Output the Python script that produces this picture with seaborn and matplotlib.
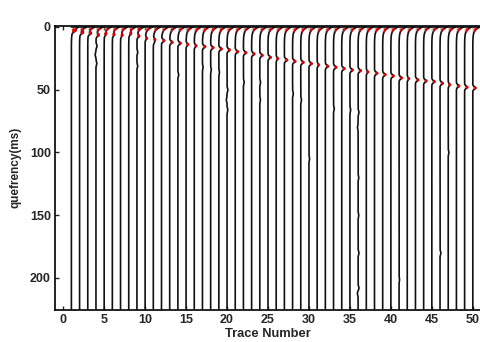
import numpy as np
import pandas as pd
import matplotlib
matplotlib.use("Agg")
import matplotlib.pyplot as plt
import seaborn as sns

# ---- data ----
trace_numbers = list(range(1, 51))
peak_quefrency = [2.9, 4.3, 5.0, 6.4, 5.5, 6.0, 6.5, 5.3, 7.2, 9.0,
                  10.0, 10.9, 12.2, 13.0, 14.0, 15.0, 15.7, 16.5, 17.5, 18.3,
                  19.7, 20.5, 21.5, 22.6, 24.2, 25.2, 26.3, 27.4, 28.2, 29.2,
                  30.2, 31.3, 32.1, 33.2, 34.3, 34.8, 35.8, 36.9, 38.0, 39.0,
                  40.6, 41.2, 42.2, 43.0, 43.6, 44.9, 46.0, 47.0, 48.0, 48.6]
peak_amp = [0.22, 0.25, 0.25, 0.25, 0.15, 0.15, 0.15, 0.18, 0.20, 0.15,
            0.15, 0.25, 0.25, 0.25, 0.18, 0.18, 0.25, 0.25, 0.25, 0.25,
            0.25, 0.25, 0.25, 0.25, 0.25, 0.15, 0.25, 0.25, 0.25, 0.25,
            0.15, 0.25, 0.25, 0.25, 0.25, 0.25, 0.15, 0.25, 0.25, 0.25,
            0.25, 0.15, 0.25, 0.25, 0.25, 0.25, 0.15, 0.25, 0.25, 0.25]
spike_amp = 0.9
# secondary small wiggles: (trace, quefrency, amplitude)
minor_trace = [4, 4, 4, 9, 9, 11, 14, 17, 18, 19, 20, 20, 20, 22, 24, 24, 28, 29,
               30, 33, 35, 36, 36, 36, 36, 36, 36, 41, 46, 47, 36]
minor_t = [15, 22, 29, 20, 31, 12, 38, 32, 34, 36, 50, 58, 66, 44, 44, 58, 53, 58,
           105, 65, 66, 68, 80, 120, 150, 180, 208, 201, 180, 100, 212]
minor_amp = [0.10, -0.08, 0.08, 0.08, 0.08, 0.10, 0.08, 0.06, 0.06, 0.06, 0.08, -0.07, 0.07,
             0.07, 0.07, 0.06, 0.07, 0.07, 0.06, 0.07, 0.07, 0.08, -0.06, 0.06, 0.06, 0.08,
             0.08, 0.05, 0.08, 0.06, -0.07]

# ---- build wiggle traces ----
t = np.arange(0, 226.01, 0.25)
rows = []
sig_by_trace = {}
for i, n in enumerate(trace_numbers):
    s = spike_amp * np.exp(-t / 2.4)
    s += peak_amp[i] * 1.3 * np.exp(-0.5 * ((t - peak_quefrency[i]) / 1.0) ** 2)
    for tr, tm, am in zip(minor_trace, minor_t, minor_amp):
        if tr == n:
            s += am * 1.3 * np.exp(-0.5 * ((t - tm) / 1.2) ** 2)
    sig_by_trace[n] = s
    tt = np.concatenate([[0.0], t])
    xx = np.concatenate([[n], n + s])
    rows.append(pd.DataFrame({"trace": n, "order": np.arange(len(tt)), "x": xx, "q": tt}))
df = pd.concat(rows, ignore_index=True)

sns.set_style("ticks")
plt.rcParams["font.family"] = ["Liberation Sans", "DejaVu Sans"]

fig = plt.figure(figsize=(4.81, 3.42), dpi=100)
ax = fig.add_axes([55 / 481, 32 / 342, 426 / 481, 284.3 / 342])

# light gray area on positive excursions
for n in trace_numbers:
    s = sig_by_trace[n]
    ax.fill_betweenx(t, n, n + s, where=s > 0.03, color="#c8c8c8", lw=0, zorder=1)

sns.lineplot(data=df, x="x", y="q", units="trace", estimator=None, sort=False,
             orient="y", color="#111111", lw=1.2, ax=ax, zorder=3)

for i, n in enumerate(trace_numbers):
    s = sig_by_trace[n]
    ax.fill_betweenx(t, n + 0.1, n + s, where=(t > 0.6) & (t < 8) & (s > 0.14),
                     color="#e00000", lw=0, zorder=4)

pk = pd.DataFrame({"x": [n + 1.2 * a for n, a in zip(trace_numbers, peak_amp)],
                   "q": peak_quefrency})
sns.scatterplot(data=pk, x="x", y="q", color="#e00000", s=5, marker="o",
                edgecolor="none", ax=ax, zorder=4)

ax.set_xlim(-1, 51)
ax.set_ylim(225.5, -1)
ax.set_xticks(range(0, 51, 5))
ax.set_yticks([0, 50, 100, 150, 200])
ax.tick_params(direction="in", length=3, width=1, labelsize=9, pad=3,
               top=True, right=False)
for lab in ax.get_xticklabels() + ax.get_yticklabels():
    lab.set_fontweight("bold")
ax.set_xlabel("Trace Number", fontsize=9.3, fontweight="bold", labelpad=1)
ax.set_ylabel("quefrency(ms)", fontsize=8.5, fontweight="bold", labelpad=6)
for sp in ["left", "bottom", "top"]:
    ax.spines[sp].set_linewidth(1.2)
    ax.spines[sp].set_color("black")
ax.spines["right"].set_visible(False)

fig.savefig("out.png", dpi=100)
